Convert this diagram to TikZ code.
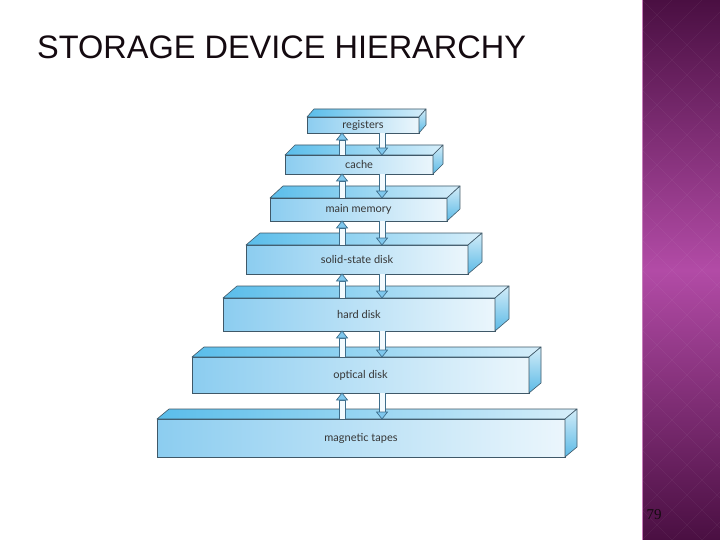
\documentclass[tikz,border=0pt]{standalone}
\usepackage{fontspec}
\setmainfont{Liberation Sans}
\newfontfamily\tierfont{Lato}
\newfontfamily\pagefont{Liberation Serif}
\usetikzlibrary{
arrows.meta,
calc
}
\definecolor{HierTitle}{HTML}{140A10}
\definecolor{HierEdge}{HTML}{3F5868}
\definecolor{HierFrontL}{HTML}{8CCDF0}
\definecolor{HierFrontR}{HTML}{EBF6FC}
\definecolor{HierTopL}{HTML}{5ABDEA}
\definecolor{HierTopR}{HTML}{D6EEFA}
\definecolor{HierSideT}{HTML}{D2ECF8}
\definecolor{HierSideB}{HTML}{5CBAE6}
\definecolor{HierArrowEdge}{HTML}{3E6E8C}
\definecolor{HierArrowFill}{HTML}{F2FAFE}
\definecolor{HierArrowHead}{HTML}{7FC8EE}
\definecolor{HierText}{HTML}{353535}
\definecolor{PanelDark}{HTML}{4A0F42}
\definecolor{PanelMid}{HTML}{B24BA6}
\definecolor{PanelEdge}{HTML}{C77DBB}
\tikzset{
tierbox/.style={draw=HierEdge, line width=0.6pt, left color=HierFrontL, right color=HierFrontR,
  inner sep=0pt, outer sep=0pt, text=HierText, font=\tierfont\fontsize{11}{13}\selectfont},
tiertop/.style={draw=HierEdge, line width=0.6pt, line join=round, left color=HierTopL, right color=HierTopR},
tierside/.style={draw=HierEdge, line width=0.6pt, line join=round, top color=HierSideT, bottom color=HierSideB},
tiershaft/.style={draw=HierArrowEdge, line width=0.7pt, line join=miter, fill=HierArrowFill},
tierhead/.style={draw=HierArrowEdge, line width=0.7pt, line join=miter, fill=HierArrowHead}
}

\begin{document}
\begin{tikzpicture}[x=1pt, y=1pt]
\useasboundingbox (0,0) rectangle (720,-540);
\fill[white] (0,0) rectangle (720,-540);
% side panel
\shade[top color=PanelDark, bottom color=PanelDark, middle color=PanelMid] (642,0) rectangle (720,-540);
\begin{scope}
\clip (642,0) rectangle (720,-540);
\foreach \k in {0,30,...,660}
  {\draw[white, opacity=0.06] (642,-\k) -- ++(80,80);
   \draw[white, opacity=0.06] (642,-\k) -- ++(80,-80);}
\end{scope}
\draw[PanelEdge, line width=0.8pt] (642.5,0) -- (642.5,-540);
\node[font=\pagefont\fontsize{15}{17}\selectfont, text=HierTitle] (pnum) at (654,-515) {79};

\node[anchor=west, inner sep=0pt, text=HierTitle, font=\fontsize{32.5}{36}\selectfont] (title) at (37,-47) {STORAGE DEVICE HIERARCHY};

% tiers, top to bottom
\foreach \n/\x/\y/\w/\h/\dx/\dy/\t in {
  reg/363/-125/112/16/7/8/registers,
  cache/359/-164.5/148/19/10/10/cache,
  mem/358.5/-209.5/177/23/13/12/main memory,
  ssd/357/-259.5/222/29/14/12/solid-state disk,
  hdd/359/-314.5/272/33/14/12/hard disk,
  opt/360.5/-375/337/36/12/10/optical disk,
  tape/361/-438/408/38/12/10/magnetic tapes}
{
\node[tierbox, minimum width=\w, minimum height=\h] (\n) at (\x,\y) {\t};
\draw[tiertop] (\n.north west) -- ++(\dx,\dy) -- ($(\n.north east)+(\dx,\dy)$) -- (\n.north east) -- cycle;
\draw[tierside] (\n.north east) -- ++(\dx,\dy) -- ($(\n.south east)+(\dx,\dy)$) -- (\n.south east) -- cycle;
}

% up and down arrows between tiers
\coordinate (upx) at (342,0);
\coordinate (dnx) at (382,0);
\foreach \hi/\lo in {reg/cache,cache/mem,mem/ssd,ssd/hdd,hdd/opt,opt/tape}
{
\draw[tiershaft] let \p1=(upx |- \lo.north), \p2=(upx |- \hi.south) in
  (\x1-3pt,\y1) -- (\x1-3pt,\y2-7pt) -- (\x1+3pt,\y2-7pt) -- (\x1+3pt,\y1);
\draw[tierhead] let \p2=(upx |- \hi.south) in
  (\x2-5.5pt,\y2-7pt) -- (\x2,\y2) -- (\x2+5.5pt,\y2-7pt) -- cycle;
\draw[tiershaft] let \p1=(dnx |- \hi.south), \p2=(dnx |- \lo.north) in
  (\x1-3pt,\y1) -- (\x1-3pt,\y2+7pt) -- (\x1+3pt,\y2+7pt) -- (\x1+3pt,\y1);
\draw[tierhead] let \p2=(dnx |- \lo.north) in
  (\x2-5.5pt,\y2+7pt) -- (\x2,\y2) -- (\x2+5.5pt,\y2+7pt) -- cycle;
}
\end{tikzpicture}
\end{document}
